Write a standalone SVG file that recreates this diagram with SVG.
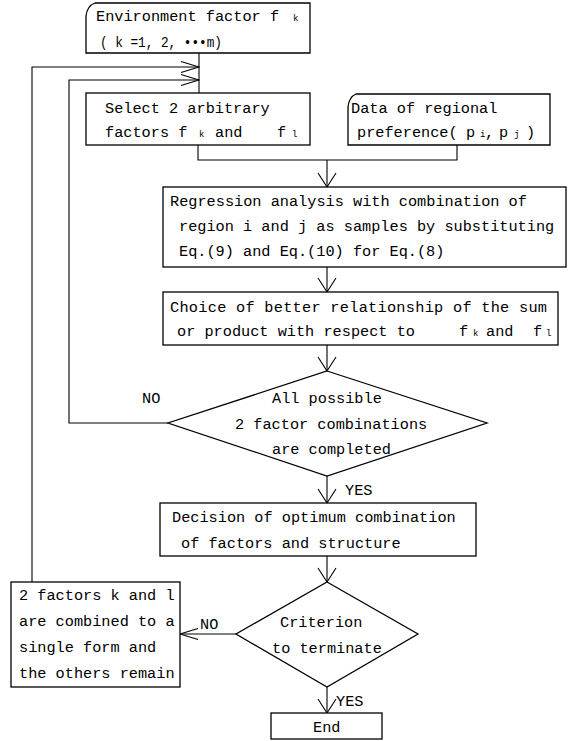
<svg xmlns="http://www.w3.org/2000/svg" width="575" height="741" viewBox="0 0 575 741">
<defs>
<style>
.bx{fill:#fff;stroke:#000;stroke-width:1.3}
.ln{fill:none;stroke:#000;stroke-width:1.1}
.t{font-family:"Liberation Mono","DejaVu Sans Mono",monospace;font-size:15.25px;fill:#000}
.s{font-size:9px}
</style>
<marker id="arr" markerUnits="userSpaceOnUse" viewBox="0 0 20 20" markerWidth="20" markerHeight="20" refX="15" refY="10" orient="auto">
<path d="M1,1 L15,10 L1,19" fill="none" stroke="#000" stroke-width="1.1"/>
</marker>
<marker id="arrL" markerUnits="userSpaceOnUse" viewBox="0 0 20 20" markerWidth="20" markerHeight="20" refX="19" refY="10" orient="auto">
<path d="M1,4.5 L19,10 L1,15.5" fill="none" stroke="#000" stroke-width="1.1"/>
</marker>
</defs>
<rect width="575" height="741" fill="#fff"/>
<g id="connectors">
<path class="ln" d="M199,53 V93"/>
<path class="ln" d="M198,145 V160 H457 V145"/>
<path class="ln" d="M327,160 V187" marker-end="url(#arr)"/>
<path class="ln" d="M327,267 V292" marker-end="url(#arr)"/>
<path class="ln" d="M327,345 V371" marker-end="url(#arr)"/>
<path class="ln" d="M327,476 V503" marker-end="url(#arr)"/>
<path class="ln" d="M327,556 V582" marker-end="url(#arr)"/>
<path class="ln" d="M327,687 V713" marker-end="url(#arr)"/>
<path class="ln" d="M168,423 H69 V80 H199" marker-end="url(#arrL)"/>
<path class="ln" d="M32,582 V67 H199" marker-end="url(#arrL)"/>
<path class="ln" d="M236,634 H180" marker-end="url(#arrL)"/>
<text class="t" x="142" y="403">NO</text>
<text class="t" x="345" y="495">YES</text>
<text class="t" x="200" y="629">NO</text>
<text class="t" x="336" y="706">YES</text>
</g>
<g id="env">
<path class="bx" d="M86,16 Q87,6 95,3 H310 V53 H86 Z"/>
<text class="t" x="96" y="21">Environment factor  f</text>
<text class="t s" x="293" y="21">k</text>
<text class="t" x="100" y="47" textLength="122" lengthAdjust="spacingAndGlyphs">( k =1, 2, •••m)</text>
</g>
<g id="select">
<rect class="bx" x="86" y="93" width="224" height="52"/>
<text class="t" x="105" y="113">Select 2 arbitrary</text>
<text class="t" x="105" y="137">factors  f</text>
<text class="t s" x="199" y="137">k</text>
<text class="t" x="215" y="137">and</text>
<text class="t" x="277" y="137">f</text>
<text class="t s" x="292" y="137">l</text>
</g>
<g id="data">
<path class="bx" d="M348,107 Q349,97 356,94 H550 V145 H348 Z"/>
<text class="t" x="351" y="113">Data of regional</text>
<text class="t" x="357" y="137">preference(</text>
<text class="t" x="466" y="137">p</text>
<text class="t s" x="480" y="137">i</text>
<text class="t" x="485" y="137">,</text>
<text class="t" x="499" y="137">p</text>
<text class="t s" x="514" y="137">j</text>
<text class="t" x="526" y="137">)</text>
</g>
<g id="regression">
<rect class="bx" x="163" y="187" width="403" height="80"/>
<text class="t" x="170" y="206">Regression analysis with combination of</text>
<text class="t" x="179" y="231">region i and j as samples by substituting</text>
<text class="t" x="179" y="256">Eq.(9) and Eq.(10) for Eq.(8)</text>
</g>
<g id="choice">
<rect class="bx" x="163" y="292" width="395" height="53"/>
<text class="t" x="170" y="312" textLength="377">Choice of better relationship of the sum</text>
<text class="t" x="177" y="336">or product with respect to</text>
<text class="t" x="459" y="336">f</text>
<text class="t s" x="473" y="336">k</text>
<text class="t" x="486" y="336">and</text>
<text class="t" x="533" y="336">f</text>
<text class="t s" x="546" y="336">l</text>
</g>
<g id="decision1">
<path class="bx" d="M327,371 L487,423 L327,476 L168,423 Z"/>
<text class="t" x="272" y="403">All possible</text>
<text class="t" x="235" y="429">2 factor combinations</text>
<text class="t" x="272" y="454">are completed</text>
</g>
<g id="optimum">
<rect class="bx" x="160" y="503" width="316" height="53"/>
<text class="t" x="172" y="522">Decision of optimum combination</text>
<text class="t" x="181" y="548">of factors and structure</text>
</g>
<g id="decision2">
<path class="bx" d="M327,582 L418,634 L327,687 L236,634 Z"/>
<text class="t" x="280" y="627">Criterion</text>
<text class="t" x="272" y="653">to terminate</text>
</g>
<g id="combine">
<rect class="bx" x="11" y="582" width="169" height="105"/>
<text class="t" x="19" y="600">2 factors k and l</text>
<text class="t" x="19" y="626">are combined to a</text>
<text class="t" x="19" y="652">single form and</text>
<text class="t" x="19" y="678">the others remain</text>
</g>
<g id="end">
<rect class="bx" x="271" y="713" width="111" height="26"/>
<text class="t" x="313" y="732">End</text>
</g>
</svg>
